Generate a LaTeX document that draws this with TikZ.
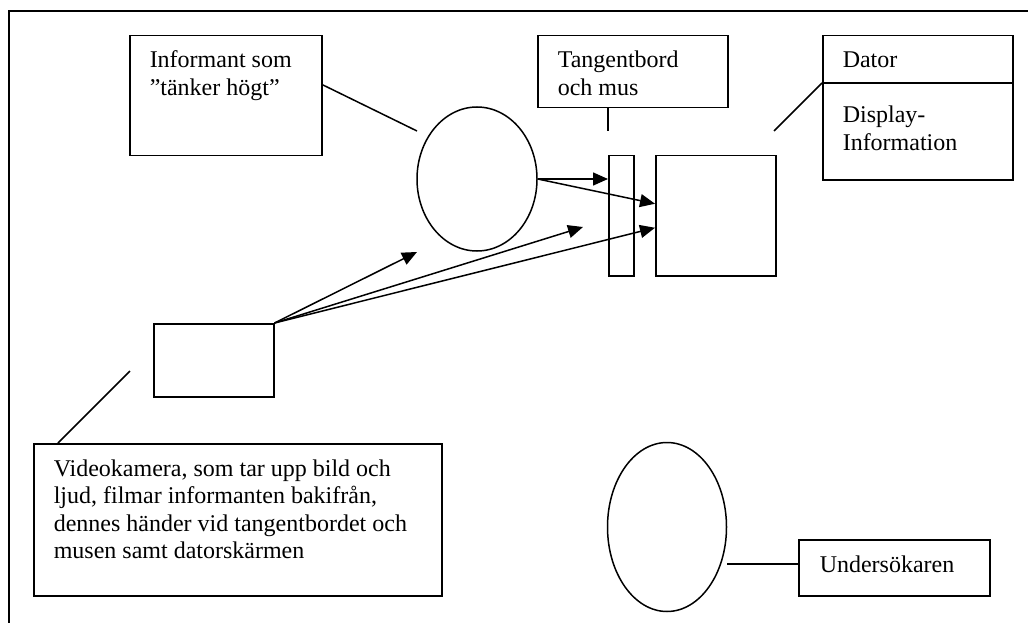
\documentclass[tikz,border=0pt]{standalone}
\usepackage{fontspec}
\setmainfont{Liberation Serif}
\usetikzlibrary{shapes.geometric,arrows.meta,calc}
% multi-line label whose baseline is that of its first line
\newcommand\txtlines[1]{\begin{tabular}[t]{@{}l@{}}#1\end{tabular}}
\begin{document}
\begin{tikzpicture}[x=1pt,y=-1pt,
  line width=1.5pt,
  box/.style={draw,rectangle,inner sep=0pt,anchor=north west},
  oval/.style={draw,ellipse,inner sep=0pt},
  txt/.style={inner sep=0pt,anchor=base west,
    font=\fontsize{24}{27.5}\selectfont},
  arr/.style={-{Triangle[length=15pt,width=13pt]}}]
\useasboundingbox (0,0) rectangle (1028,623);
% outer frame
\draw (9,623) -- (9,11) -- (1028,11);

% boxes and shapes
\node[box,minimum width=192pt,minimum height=120pt] (inf) at (129,35) {};
\node[txt] (inftxt) at (149,68) {\txtlines{Informant som\\”tänker högt”}};
\node[oval,minimum width=120pt,minimum height=144pt] (person) at (477,179) {};

\node[box,minimum width=190pt,minimum height=72pt] (kbd) at (537,35) {};
\node[txt] (kbdtxt) at (557,68) {\txtlines{Tangentbord\\och mus}};

\node[box,minimum width=190pt,minimum height=144pt] (dator) at (822,35) {};
\draw (dator.west |- 0,83) -- (dator.east |- 0,83);
\node[txt] (datortxt) at (842,68) {Dator};
\node[txt] (disptxt) at (842,123) {\txtlines{Display-\\Information}};

\node[box,minimum width=25pt,minimum height=120pt] (keys) at (608,155) {};
\node[box,minimum width=120pt,minimum height=120pt] (screen) at (655,155) {};

\node[box,minimum width=120pt,minimum height=73pt] (cam) at (153,323) {};
\node[box,minimum width=408pt,minimum height=152pt] (camlbl) at (33,443) {};
\node[txt] (camtxt) at (53,476) {\txtlines{Videokamera, som tar upp bild och\\ljud, filmar informanten bakifrån,\\dennes händer vid tangentbordet och\\musen samt datorskärmen}};

\node[oval,minimum width=119pt,minimum height=169pt] (res) at (667,527) {};
\node[box,minimum width=191pt,minimum height=56pt] (und) at (798,539) {};
\node[txt] (undtxt) at (819,572) {Undersökaren};

% free ends of the label lines and arrows
\coordinate (infend) at (417,131);
\coordinate (kbdend) at (608,131);
\coordinate (datorend) at (774,131);
\coordinate (camend) at (130,371);
\coordinate (camtip1) at (417,252);
\coordinate (camtip2) at (583,227);

% label lines
\draw ($(inf.east)+(0,-11)$) -- (infend);
\draw (kbd.south -| keys.west) -- (kbdend);
\draw (dator.west |- 0,83) -- (datorend);
\draw ($(camlbl.north west)+(25,0)$) -- (camend);
\draw ($(und.west)+(0,-4)$) -- ++(-71,0);

% arrows
\draw[arr] (person.east) -- (person.east -| keys.west);
\draw[arr] (person.east) -- ($(screen.west)+(0,-12)$);
\draw[arr] (cam.north east) -- (camtip1);
\draw[arr] (cam.north east) -- (camtip2);
\draw[arr] (cam.north east) -- ($(screen.west)+(0,12)$);
\end{tikzpicture}
\end{document}
